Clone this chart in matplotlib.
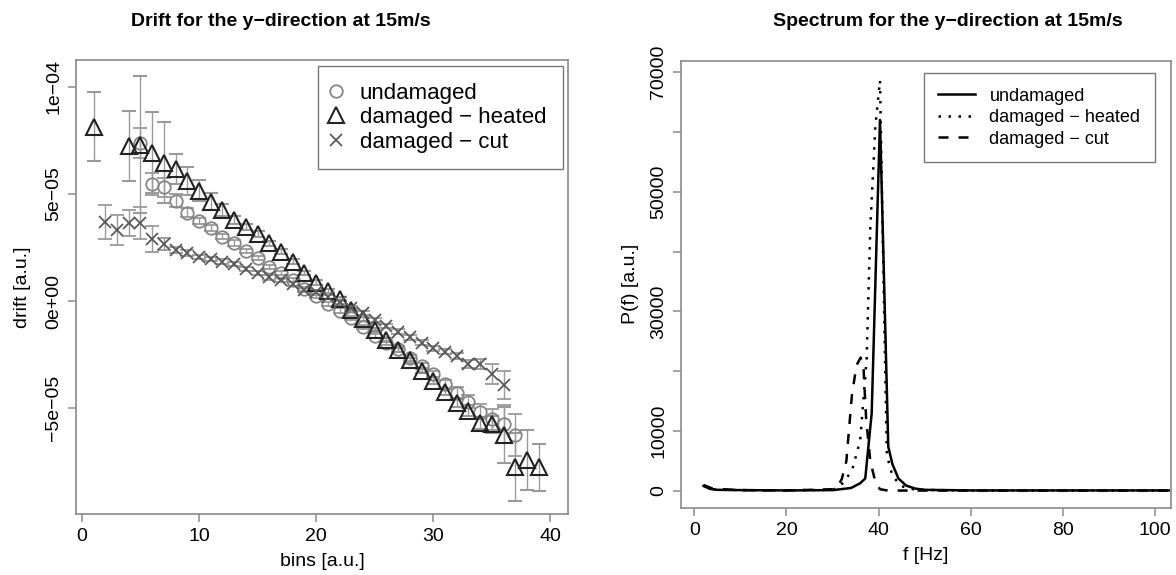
import matplotlib
matplotlib.use("Agg")
import matplotlib.pyplot as plt
from matplotlib.lines import Line2D

plt.rcParams['font.family'] = ['Liberation Sans', 'DejaVu Sans']

# drift data, values in units of 1e-5
bins_und = list(range(5, 38))
drift_und = [7.37, 5.47, 5.31, 4.69, 4.13, 3.74, 3.40, 3.00, 2.71, 2.33, 2.00, 1.60, 1.32,
             0.98, 0.55, 0.25, -0.14, -0.45, -0.81, -1.23, -1.64, -1.96, -2.24, -2.66,
             -3.04, -3.41, -3.88, -4.28, -4.70, -5.17, -5.53, -5.75, -6.26]
err_und = [0.70, 0.50, 0.45, 0.30, 0.20, 0.15, 0.15, 0.12, 0.12, 0.10, 0.10, 0.10, 0.10,
           0.10, 0.10, 0.10, 0.10, 0.10, 0.10, 0.10, 0.10, 0.10, 0.12, 0.12,
           0.15, 0.15, 0.20, 0.25, 0.30, 0.35, 0.50, 0.90, 1.00]

bins_heat = [1] + list(range(4, 40))
drift_heat = [8.15, 7.24, 7.30, 6.93, 6.46, 6.17, 5.60, 5.15, 4.64, 4.25, 3.78, 3.47, 3.13,
              2.70, 2.30, 1.84, 1.32, 0.86, 0.47, 0.09, -0.42, -0.84, -1.36, -1.82, -2.29,
              -2.76, -3.26, -3.72, -4.24, -4.77, -5.13, -5.70, -5.75, -6.26, -7.76, -7.43, -7.76]
err_heat = [1.60, 1.65, 3.20, 1.90, 1.90, 0.70, 0.65, 0.50, 0.40, 0.30, 0.20, 0.15, 0.15,
            0.12, 0.12, 0.10, 0.10, 0.10, 0.10, 0.10, 0.10, 0.10, 0.10, 0.10, 0.10,
            0.12, 0.12, 0.15, 0.15, 0.20, 0.25, 0.30, 0.40, 1.30, 1.60, 1.40, 1.10]

bins_cut = list(range(2, 37))
drift_cut = [3.70, 3.32, 3.63, 3.63, 2.90, 2.66, 2.38, 2.24, 2.07, 1.95, 1.84, 1.73, 1.48,
             1.32, 1.10, 0.98, 0.79, 0.51, 0.40, 0.20, -0.03, -0.33, -0.57, -0.89, -1.17,
             -1.43, -1.70, -1.95, -2.21, -2.37, -2.57, -2.94, -2.94, -3.41, -3.93]
err_cut = [0.80, 0.70, 0.60, 0.75, 0.60, 0.30, 0.15, 0.12, 0.10, 0.10, 0.10, 0.10, 0.10,
           0.10, 0.10, 0.10, 0.10, 0.10, 0.10, 0.10, 0.10, 0.10, 0.10, 0.10, 0.10,
           0.10, 0.10, 0.12, 0.12, 0.12, 0.15, 0.20, 0.25, 0.45, 0.65]

# spectrum data
f_und = [2, 3.4, 5, 10, 20, 30, 34, 36, 37.1, 38.5, 40.3, 42.1, 43, 44.3, 46, 48, 50, 60, 80, 103]
p_und = [850, 350, 200, 150, 100, 150, 500, 1300, 2100, 13000, 62000, 7400, 4500, 2100, 900, 400,
         200, 100, 100, 100]
f_heat = [2, 4, 10, 20, 30, 31, 32.5, 34.3, 36, 37.4, 38.2, 39.3, 40.3, 41.2, 41.8, 43, 45, 48, 60, 103]
p_heat = [900, 300, 150, 100, 200, 500, 1500, 3600, 8500, 22000, 44000, 61000, 68600, 30000, 6000,
          2500, 800, 200, 100, 100]
f_cut = [2, 4, 10, 20, 30, 31, 32, 33, 34.2, 35.2, 36.1, 36.7, 37.3, 38.2, 39.3, 40.3, 42, 60, 103]
p_cut = [1000, 400, 150, 100, 300, 600, 2000, 5000, 16000, 21000, 22300, 21000, 12000, 5000, 1500,
         300, 80, 80, 80]

labels = ['undamaged', 'damaged \u2212 heated', 'damaged \u2212 cut']

fig = plt.figure(figsize=(11.76, 5.75), dpi=100)
ax1 = fig.add_axes([0.0646, 0.1061, 0.4184, 0.7896])
ax2 = fig.add_axes([0.5791, 0.117, 0.4167, 0.7774])

grey = '#8a8a8a'
ebar = '#9a9a9a'
for ax in (ax1, ax2):
    for s in ax.spines.values():
        s.set_color(grey)
        s.set_linewidth(1.2)
    ax.tick_params(direction='out', length=6, width=1.1, color=grey, labelsize=14, pad=4)

def sc(v):
    return [x * 1e-5 for x in v]

styles = [
    dict(marker='o', ms=9, mfc='none', mec='#858585', mew=1.3),
    dict(marker='^', ms=11, mfc='none', mec='#222222', mew=1.5),
    dict(marker='x', ms=9, mec='#5a5a5a', mew=1.3),
]
for b, d, e, st in zip([bins_und, bins_heat, bins_cut], [drift_und, drift_heat, drift_cut],
                       [err_und, err_heat, err_cut], styles):
    ax1.errorbar(b, sc(d), yerr=sc(e), ls='none', ecolor=ebar, elinewidth=1.0,
                 capsize=5, capthick=1.0, **st)

ax1.set_xlim(-0.5, 41.5)
ax1.set_ylim(-9.95e-5, 11.26e-5)
ax1.set_xticks([0, 10, 20, 30, 40])
ax1.set_yticks([1e-4, 5e-5, 0, -5e-5])
ax1.set_yticklabels(['1e\u221204', '5e\u221205', '0e+00', '\u22125e\u221205'], rotation=90, va='center')
ax1.set_xlabel('bins [a.u.]', fontsize=14, labelpad=6)
ax1.set_ylabel('drift [a.u.]', fontsize=14, labelpad=10)
fig.text(281 / 1176, 1 - 22 / 575, 'Drift for the y\u2212direction at 15m/s', fontsize=14,
         fontweight='bold', ha='center', va='center')
handles1 = [Line2D([], [], ls='none', **st) for st in styles]
leg1 = ax1.legend(handles1, labels, loc='upper right', fontsize=16, frameon=True, fancybox=False,
                  handlelength=0.1, borderpad=0.76, labelspacing=0.15, handletextpad=1.0,
                  bbox_to_anchor=(0.9898, 0.9868), borderaxespad=0)
leg1.get_frame().set_edgecolor('#555555')
leg1.get_frame().set_linewidth(1.0)

ax2.plot(f_und, p_und, color='black', lw=1.8, ls='-')
ax2.plot(f_heat, p_heat, color='black', lw=1.8, ls=(0, (1, 3)))
ax2.plot(f_cut, p_cut, color='black', lw=1.8, ls=(0, (4, 4)))
ax2.set_xlim(-2.9, 103.5)
ax2.set_ylim(-2790, 71900)
ax2.set_xticks([0, 20, 40, 60, 80, 100])
ax2.set_yticks(range(0, 70001, 10000))
ax2.set_yticklabels(['0', '10000', '', '30000', '', '50000', '', '70000'], rotation=90, va='center')
ax2.set_xlabel('f [Hz]', fontsize=14, labelpad=6)
ax2.set_ylabel('P(f) [a.u.]', fontsize=14, labelpad=8)
fig.text(948 / 1176, 1 - 22 / 575, 'Spectrum for the y\u2212direction at 15m/s', fontsize=14,
         fontweight='bold', ha='center', va='center')
leg2 = ax2.legend(ax2.get_lines(), labels, loc='upper right', fontsize=13, frameon=True,
                  fancybox=False, handlelength=2.05, borderpad=0.8, labelspacing=0.25,
                  handletextpad=0.8, bbox_to_anchor=(0.967, 0.972), borderaxespad=0)
leg2.get_frame().set_edgecolor('#555555')
leg2.get_frame().set_linewidth(1.0)

fig.savefig('out.png', dpi=100)
